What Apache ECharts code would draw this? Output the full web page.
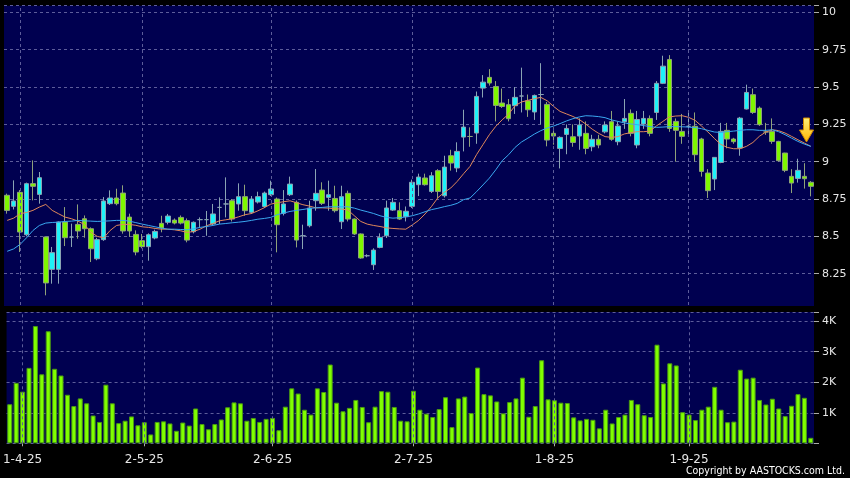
<!DOCTYPE html>
<html><head><meta charset="utf-8">
<script src="https://cdn.jsdelivr.net/npm/echarts@6/dist/echarts.min.js"></script>
<style>html,body{margin:0;padding:0;background:#000;}#c{width:850px;height:478px;}</style>
</head><body><div id="c"></div>
<script>
const dates = ['28-3-25','31-3-25',
'1-4-25','2-4-25','3-4-25','7-4-25','8-4-25','9-4-25','10-4-25','11-4-25','14-4-25','15-4-25','16-4-25','17-4-25','22-4-25','23-4-25','24-4-25','25-4-25','28-4-25','29-4-25','30-4-25',
'2-5-25','6-5-25','7-5-25','8-5-25','9-5-25','12-5-25','13-5-25','14-5-25','15-5-25','16-5-25','19-5-25','20-5-25','21-5-25','22-5-25','23-5-25','26-5-25','27-5-25','28-5-25','29-5-25','30-5-25',
'2-6-25','3-6-25','4-6-25','5-6-25','6-6-25','9-6-25','10-6-25','11-6-25','12-6-25','13-6-25','16-6-25','17-6-25','18-6-25','19-6-25','20-6-25','23-6-25','24-6-25','25-6-25','26-6-25','27-6-25','30-6-25',
'2-7-25','3-7-25','4-7-25','7-7-25','8-7-25','9-7-25','10-7-25','11-7-25','14-7-25','15-7-25','16-7-25','17-7-25','18-7-25','21-7-25','22-7-25','23-7-25','24-7-25','25-7-25','28-7-25','29-7-25','30-7-25','31-7-25',
'1-8-25','4-8-25','5-8-25','6-8-25','7-8-25','8-8-25','11-8-25','12-8-25','13-8-25','14-8-25','15-8-25','18-8-25','19-8-25','20-8-25','21-8-25','22-8-25','25-8-25','26-8-25','27-8-25','28-8-25','29-8-25',
'1-9-25','2-9-25','3-9-25','4-9-25','5-9-25','8-9-25','9-9-25','10-9-25','11-9-25','12-9-25','15-9-25','16-9-25','17-9-25','18-9-25','19-9-25','22-9-25','23-9-25','24-9-25','25-9-25','26-9-25','29-9-25'];

// month labels and the bar positions where the reference draws them
const tickLabels = ['1-4-25','2-5-25','2-6-25','2-7-25','1-8-25','1-9-25'];
const tickIndex = [2, 21, 41, 63, 85, 106];

const open = [8.775,8.701,8.795,8.511,8.853,8.781,8.496,8.279,8.279,8.596,
8.495,8.58,8.618,8.551,8.35,8.478,8.719,8.757,8.79,8.629,
8.513,8.471,8.431,8.489,8.587,8.594,8.609,8.627,8.605,8.531,
8.612,8.612,8.583,8.694,8.717,8.739,8.717,8.766,8.661,8.73,
8.70,8.779,8.75,8.654,8.779,8.728,8.504,8.571,8.739,8.81,
8.761,8.754,8.598,8.788,8.616,8.516,8.37,8.31,8.426,8.504,
8.676,8.672,8.632,8.701,8.846,8.891,8.801,8.94,8.772,9.04,
8.958,9.165,9.169,9.192,9.493,9.565,9.504,9.393,9.382,9.375,
9.44,9.408,9.333,9.45,9.384,9.19,9.089,9.183,9.167,9.172,
9.19,9.1,9.15,9.2,9.268,9.134,9.268,9.324,9.112,9.252,
9.29,9.33,9.525,9.685,9.27,9.203,9.237,9.237,9.152,8.924,
8.884,8.995,9.21,9.152,9.092,9.353,9.449,9.359,9.199,9.203,
9.136,9.058,8.902,8.888,8.902,8.862];

const close = [8.674,8.737,8.529,8.853,8.835,8.893,8.188,8.391,8.596,8.491,
8.495,8.536,8.551,8.417,8.478,8.737,8.757,8.719,8.536,8.536,
8.395,8.431,8.511,8.533,8.556,8.636,8.589,8.589,8.475,8.594,
8.612,8.612,8.65,8.694,8.717,8.616,8.766,8.672,8.75,8.766,
8.79,8.817,8.578,8.717,8.85,8.475,8.504,8.69,8.788,8.721,
8.779,8.672,8.766,8.616,8.516,8.355,8.37,8.408,8.493,8.69,
8.728,8.616,8.668,8.862,8.897,8.846,8.906,8.801,8.964,8.991,
9.069,9.232,9.169,9.4375,9.533,9.527,9.377,9.37,9.288,9.431,
9.44,9.348,9.444,9.45,9.145,9.172,9.163,9.223,9.129,9.246,
9.089,9.15,9.112,9.246,9.15,9.239,9.29,9.19,9.283,9.29,
9.19,9.525,9.64,9.223,9.21,9.17,9.237,9.047,8.935,8.806,
9.029,9.203,9.152,9.134,9.292,9.464,9.33,9.248,9.199,9.136,
9.007,8.942,8.857,8.942,8.886,8.835];

const high = [8.786,8.875,8.81,8.86,9.009,8.931,8.50,8.429,8.60,8.696,
8.585,8.714,8.64,8.56,8.49,8.763,8.808,8.819,8.842,8.652,
8.54,8.516,8.52,8.545,8.638,8.65,8.62,8.64,8.62,8.60,
8.627,8.67,8.717,8.761,8.895,8.75,8.855,8.846,8.77,8.799,
8.80,8.873,8.76,8.81,8.90,8.74,8.578,8.739,8.951,8.862,
8.873,8.839,8.839,8.806,8.62,8.52,8.38,8.42,8.52,8.739,
8.757,8.728,8.70,8.88,8.92,8.92,8.93,8.95,9.04,9.08,
9.13,9.348,9.23,9.47,9.58,9.62,9.54,9.49,9.42,9.50,
9.63,9.45,9.45,9.66,9.40,9.23,9.17,9.25,9.25,9.29,
9.27,9.18,9.18,9.27,9.34,9.27,9.42,9.35,9.34,9.34,
9.31,9.54,9.71,9.714,9.29,9.32,9.33,9.33,9.16,8.95,
9.03,9.26,9.26,9.16,9.30,9.516,9.49,9.37,9.26,9.29,
9.14,9.06,8.95,9.02,8.99,8.87];

const low = [8.652,8.68,8.395,8.50,8.741,8.719,8.105,8.183,8.183,8.435,
8.429,8.484,8.491,8.328,8.34,8.47,8.71,8.708,8.518,8.496,
8.373,8.42,8.337,8.48,8.527,8.58,8.58,8.58,8.46,8.52,
8.56,8.504,8.575,8.583,8.627,8.60,8.672,8.638,8.65,8.72,
8.69,8.77,8.393,8.64,8.77,8.426,8.415,8.56,8.672,8.71,
8.672,8.66,8.549,8.60,8.51,8.35,8.36,8.275,8.42,8.489,
8.67,8.61,8.60,8.69,8.77,8.84,8.79,8.757,8.76,8.94,
8.93,9.069,9.10,9.12,9.43,9.51,9.27,9.36,9.27,9.32,
9.33,9.30,9.28,9.25,9.103,9.114,8.955,9.05,9.10,9.08,
9.05,9.07,9.09,9.19,9.14,9.11,9.22,9.17,9.09,9.22,
9.17,9.28,9.52,9.2,9.0,9.12,9.18,9.0,8.90,8.757,
8.81,8.99,9.09,9.12,9.04,9.35,9.32,9.24,9.18,9.12,
9.0,8.93,8.79,8.86,8.82,8.768];

const volumeK = [1.28,1.98,1.69,2.47,3.84,2.26,3.67,2.44,2.22,1.59,
1.22,1.47,1.31,0.91,0.70,1.92,1.31,0.66,0.74,0.88,
0.59,0.69,0.29,0.70,0.72,0.65,0.41,0.68,0.58,1.14,
0.63,0.46,0.63,0.78,1.18,1.34,1.31,0.74,0.83,0.70,
0.80,0.83,0.43,1.2,1.8,1.63,1.1,0.94,1.8,1.68,
2.58,1.33,1.05,1.16,1.42,1.19,0.69,1.2,1.71,1.69,
1.19,0.74,0.72,1.72,1.1,0.97,0.86,1.12,1.51,0.53,
1.47,1.53,0.99,2.48,1.61,1.57,1.37,0.98,1.35,1.47,
2.15,0.87,1.22,2.72,1.44,1.41,1.33,1.32,0.85,0.75,
0.8,0.77,0.49,1.1,0.65,0.86,0.94,1.42,1.28,0.92,
0.86,3.23,1.96,2.62,2.55,1.02,0.94,0.76,1.1,1.2,
1.85,1.1,0.69,0.71,2.41,2.12,2.15,1.42,1.27,1.46,
1.14,0.89,1.23,1.61,1.49,0.18];

const maShort = [8.607,8.622,8.651,8.66,8.674,8.696,8.714,8.674,8.651,8.629,
8.618,8.602,8.58,8.528,8.5,8.49,8.539,8.573,8.58,8.58,
8.574,8.564,8.56,8.553,8.548,8.548,8.544,8.537,8.526,8.533,
8.548,8.571,8.586,8.604,8.611,8.618,8.631,8.645,8.653,8.671,
8.692,8.716,8.725,8.732,8.738,8.725,8.712,8.703,8.691,8.691,
8.689,8.685,8.683,8.676,8.638,8.6,8.582,8.573,8.566,8.557,
8.553,8.55,8.548,8.576,8.607,8.65,8.70,8.759,8.795,8.824,
8.868,8.92,8.969,9.047,9.114,9.181,9.237,9.281,9.319,9.375,
9.4,9.411,9.422,9.431,9.408,9.37,9.337,9.32,9.303,9.282,
9.252,9.218,9.19,9.168,9.163,9.168,9.186,9.195,9.201,9.201,
9.205,9.24,9.27,9.3,9.306,9.308,9.297,9.277,9.239,9.199,
9.156,9.116,9.096,9.087,9.087,9.103,9.129,9.17,9.199,9.214,
9.208,9.192,9.17,9.147,9.125,9.103];

const maLong = [8.40,8.416,8.446,8.49,8.539,8.573,8.589,8.593,8.595,8.60,
8.602,8.607,8.604,8.602,8.60,8.602,8.604,8.607,8.607,8.602,
8.592,8.582,8.573,8.564,8.555,8.548,8.548,8.546,8.544,8.551,
8.56,8.566,8.573,8.582,8.586,8.591,8.595,8.60,8.607,8.615,
8.62,8.627,8.645,8.656,8.667,8.674,8.68,8.687,8.691,8.694,
8.698,8.698,8.698,8.698,8.689,8.676,8.665,8.653,8.638,8.627,
8.622,8.625,8.63,8.638,8.65,8.665,8.679,8.688,8.699,8.708,
8.721,8.746,8.757,8.799,8.844,8.89,8.946,9.007,9.047,9.096,
9.132,9.158,9.185,9.208,9.226,9.239,9.255,9.273,9.288,9.3,
9.308,9.306,9.302,9.295,9.28,9.27,9.26,9.253,9.248,9.242,
9.235,9.23,9.232,9.235,9.235,9.234,9.232,9.228,9.221,9.21,
9.199,9.196,9.201,9.205,9.21,9.214,9.214,9.21,9.21,9.214,
9.201,9.181,9.158,9.136,9.118,9.103];

const priceTicks = ['8.25','8.5','8.75','9','9.25','9.5','9.75','10'];
const volumeTicks = ['1K','2K','3K','4K'];

const candleData = open.map((o, i) => [o, close[i], low[i], high[i]]);
const volumeData = volumeK.map(v => v * 1000);
const isTick = i => tickIndex.indexOf(i) >= 0;
const tickText = i => { const k = tickIndex.indexOf(i); return k >= 0 ? tickLabels[k] : ''; };
const gridLineStyle = { color: '#5d5d9a', type: [3, 3], width: 1 };
const vLines = tickIndex.map(i => ({ xAxis: dates[i] }));
const labelFont = { color: '#e6e6e6', fontFamily: 'DejaVu Sans', fontSize: 11 };

const chart = echarts.init(document.getElementById('c'), null, { renderer: 'canvas' });
chart.setOption({
  backgroundColor: '#000',
  animation: false,
  grid: [
    { left: 4, right: 36, top: 5.7, height: 305.3, show: true, backgroundColor: '#000050', borderWidth: 0 },
    { left: 4, right: 36, top: 312, height: 131.3, show: true, backgroundColor: '#000050', borderWidth: 0 }
  ],
  xAxis: [
    { type: 'category', gridIndex: 0, data: dates, boundaryGap: true, show: true,
      axisLine: { show: false }, axisTick: { show: false }, axisLabel: { show: false }, splitLine: { show: false } },
    { type: 'category', gridIndex: 1, data: dates, boundaryGap: true, offset: 3,
      axisLine: { show: false },
      axisTick: { show: true, alignWithLabel: true, length: 3, interval: (i) => isTick(i), lineStyle: { color: '#aaa' } },
      axisLabel: { ...labelFont, fontSize: 12, margin: 8, interval: (i) => isTick(i), formatter: (v, i) => tickText(i),
        alignMinLabel: 'center', alignMaxLabel: 'center' },
      splitLine: { show: false } }
  ],
  yAxis: [
    { type: 'value', gridIndex: 0, position: 'right', min: 8, max: 10.045, interval: 0.25,
      axisLine: { show: false }, axisTick: { show: true, length: 5, lineStyle: { color: '#aaa' } },
      axisLabel: { ...labelFont, margin: 8, formatter: (v) => {
        const s = String(Math.round(v * 100) / 100);
        return priceTicks.indexOf(s) >= 0 ? s : '';
      } },
      splitLine: { show: true, lineStyle: gridLineStyle } },
    { type: 'value', gridIndex: 1, position: 'right', min: 0, max: 4300, interval: 1000,
      axisLine: { show: false }, axisTick: { show: true, length: 5, lineStyle: { color: '#aaa' } },
      axisLabel: { ...labelFont, margin: 8, formatter: (v) => {
        const s = Math.round(v / 1000) + 'K';
        return (v > 0 && v % 1000 === 0 && volumeTicks.indexOf(s) >= 0) ? s : '';
      } },
      splitLine: { show: true, lineStyle: gridLineStyle } }
  ],
  series: [
    { type: 'candlestick', xAxisIndex: 0, yAxisIndex: 0, data: candleData, barWidth: 5,
      itemStyle: { color: '#1ef2f8', color0: '#7ff700', borderColor: '#8aa4b4', borderColor0: '#8fa27a', borderWidth: 1 },
      markLine: { silent: true, symbol: 'none', label: { show: false }, lineStyle: gridLineStyle, data: vLines },
      z: 3 },
    { type: 'line', xAxisIndex: 0, yAxisIndex: 0, data: maShort, showSymbol: false, smooth: false,
      lineStyle: { color: '#e0885a', width: 1 }, z: 4 },
    { type: 'line', xAxisIndex: 0, yAxisIndex: 0, data: maLong, showSymbol: false, smooth: false,
      lineStyle: { color: '#3aa8f0', width: 1 }, z: 4 },
    { type: 'bar', xAxisIndex: 1, yAxisIndex: 1, data: volumeData, barWidth: 5,
      itemStyle: { color: '#80ff00', borderColor: '#4b9a12', borderWidth: 1 },
      markLine: { silent: true, symbol: 'none', label: { show: false }, lineStyle: gridLineStyle, data: vLines } }
  ],
  graphic: [
    { type: 'rect', shape: { x: 0, y: 306, width: 850, height: 6 }, style: { fill: '#000' }, z: 100 },
    { type: 'polygon', z: 50,
      shape: { points: [[803.5,118],[809.5,118],[809.5,130],[813.5,130],[806.5,142],[799.5,130],[803.5,130]] },
      style: { fill: new echarts.graphic.LinearGradient(0, 0, 0, 1, [{ offset: 0, color: '#fff27a' }, { offset: 1, color: '#ffb400' }]), stroke: '#d08a00', lineWidth: 1 } },
    { type: 'text', right: 5, top: 466, z: 50,
      style: { text: 'Copyright by AASTOCKS.com Ltd.', fill: '#ffffff', font: '10.5px "DejaVu Sans Condensed", "DejaVu Sans", sans-serif' } }
  ]
});
</script></body></html>
